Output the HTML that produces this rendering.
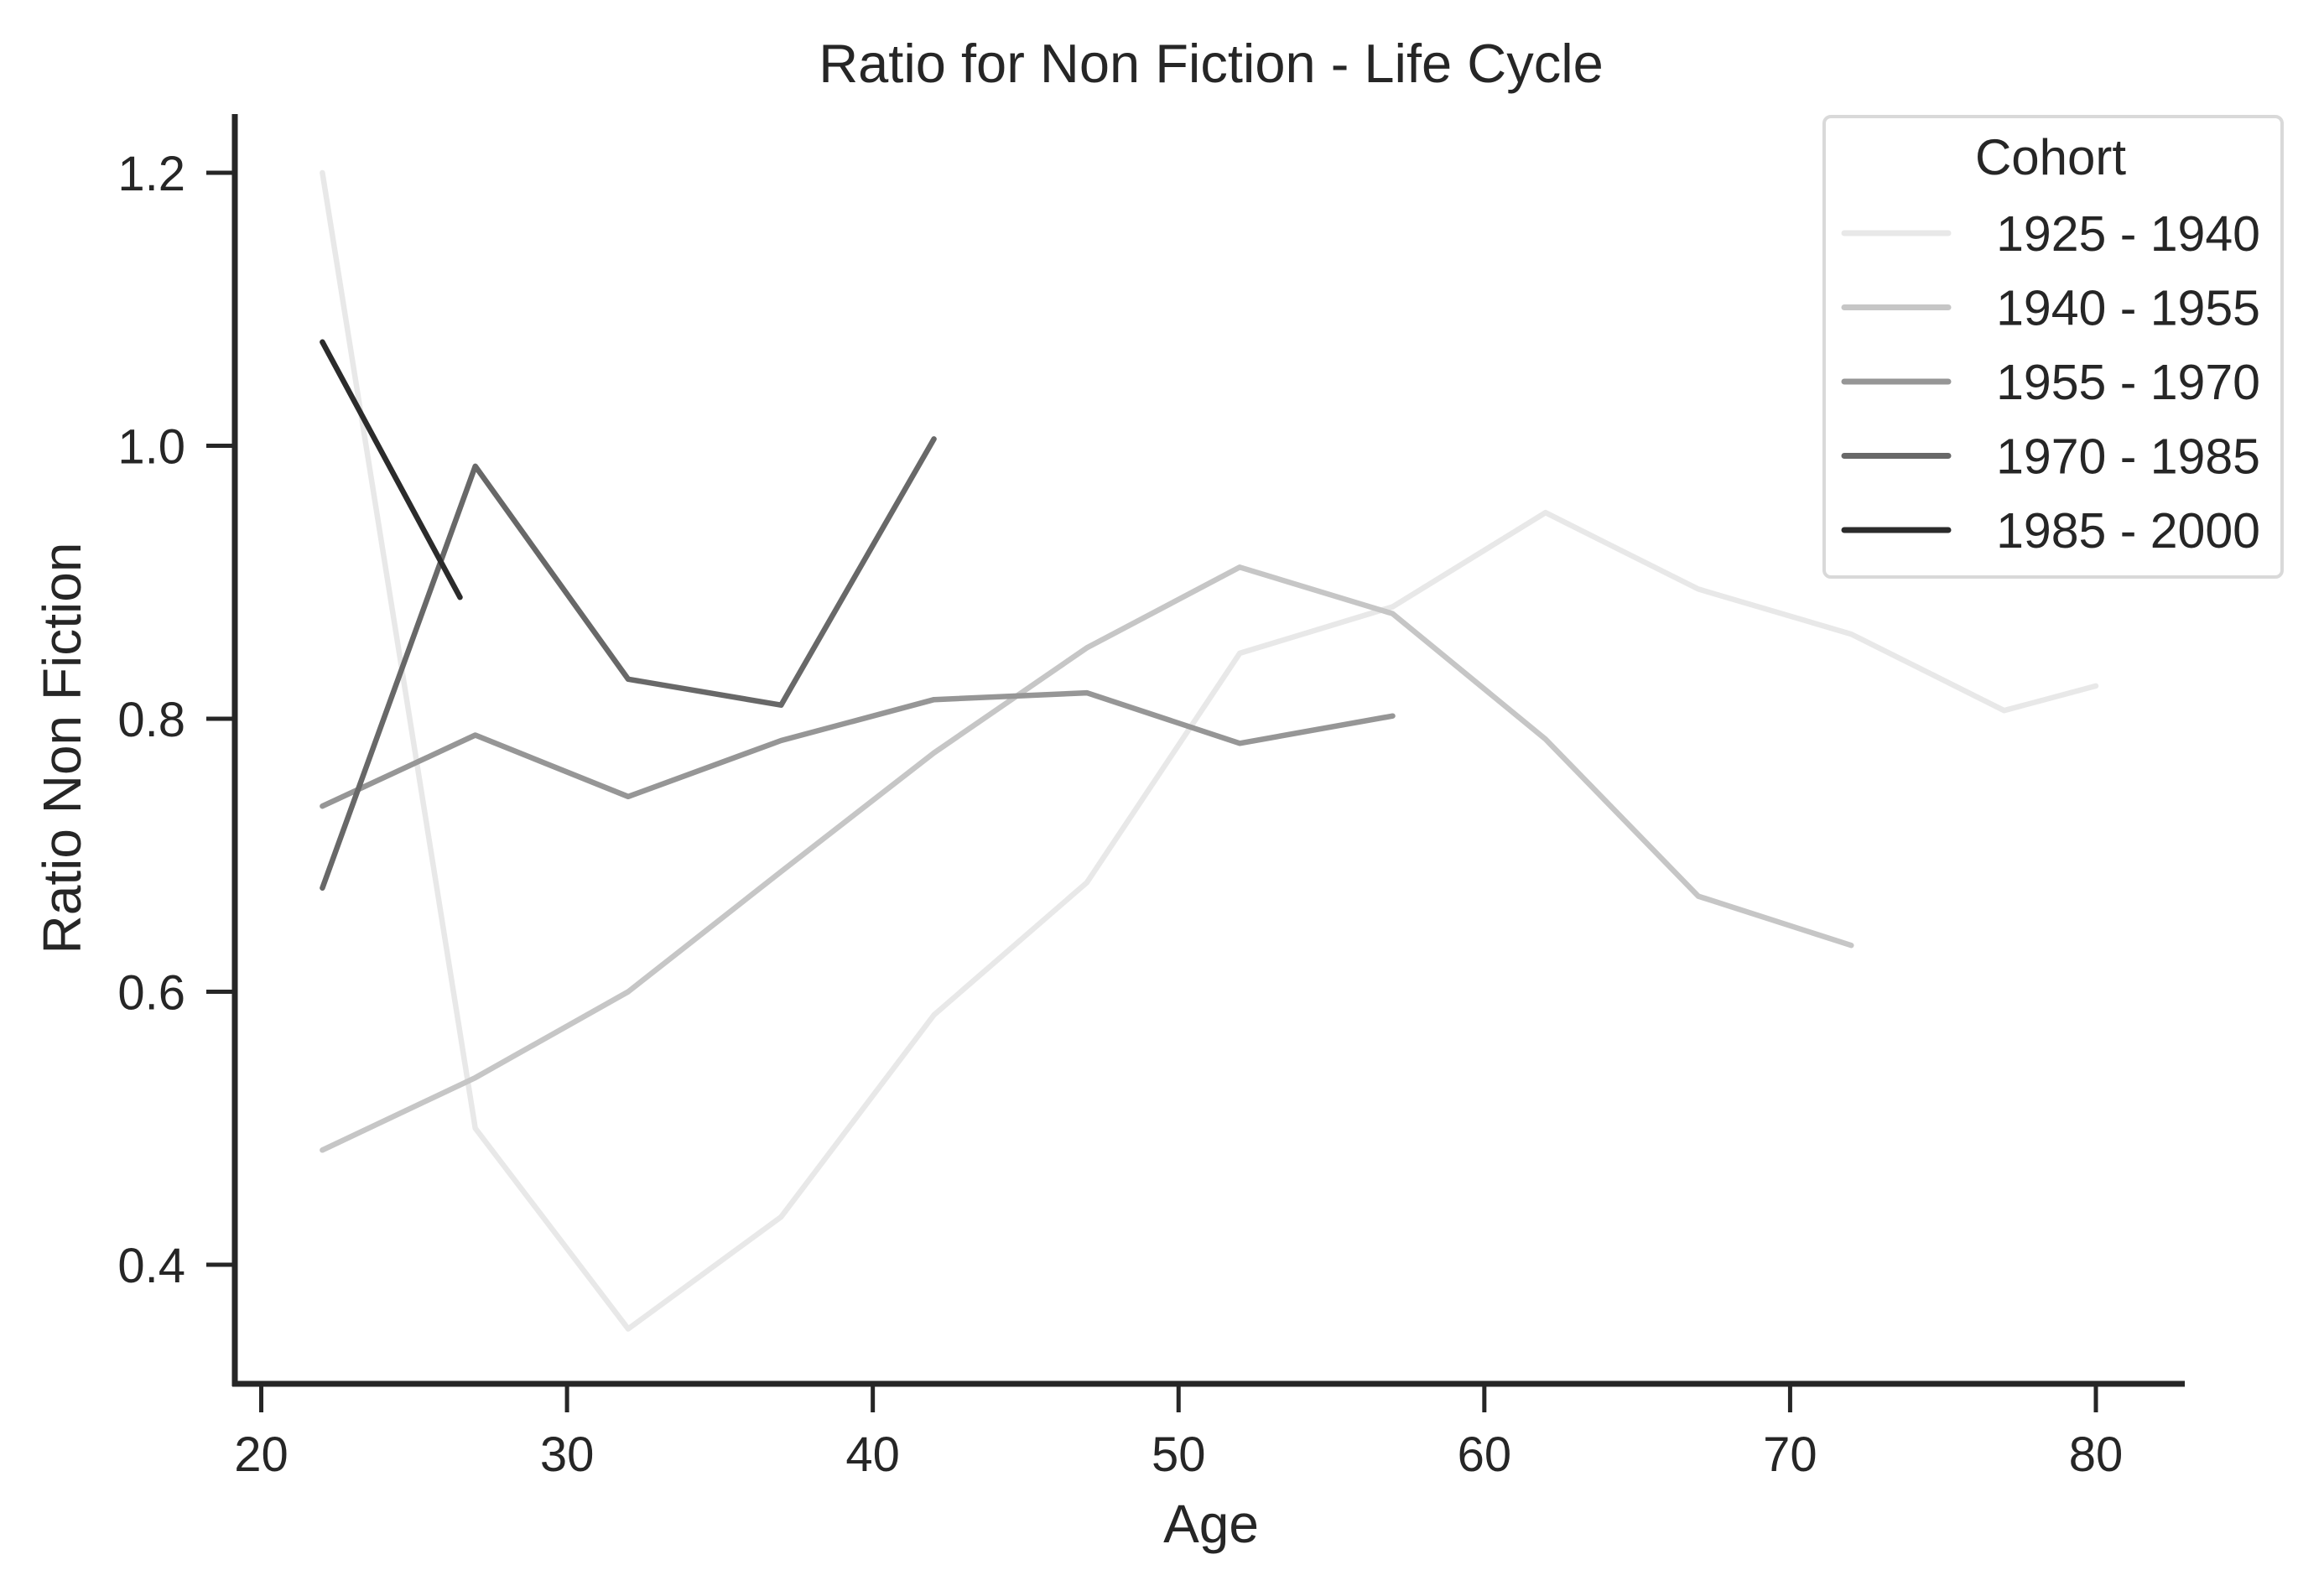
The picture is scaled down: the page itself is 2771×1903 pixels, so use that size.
<!DOCTYPE html>
<html><head><meta charset="utf-8"><style>
html,body{margin:0;padding:0;background:#fff;}
svg{display:block;font-family:"Liberation Sans",Arial,sans-serif;}
</style></head><body>
<svg id="chart" width="2771" height="1903" viewBox="0 0 2771 1903" xmlns="http://www.w3.org/2000/svg">
<rect width="2771" height="1903" fill="#fff"/>
<text x="1444" y="98" font-size="65" fill="#262626" text-anchor="middle">Ratio for Non Fiction - Life Cycle</text>
<g id="plot"></g>
<line x1="280" y1="136" x2="280" y2="1653" stroke="#262626" stroke-width="7"/>
<line x1="277" y1="1650" x2="2605" y2="1650" stroke="#262626" stroke-width="7"/>
<text x="1444" y="1839" font-size="64" fill="#262626" text-anchor="middle">Age</text>
<text transform="translate(96,892) rotate(-90)" font-size="64" fill="#262626" text-anchor="middle">Ratio Non Fiction</text>
<g>
<rect x="2175" y="139" width="546" height="549" rx="8" fill="#fff" stroke="#d9d9d9" stroke-width="4"/>
<text x="2445" y="208" font-size="60" fill="#262626" text-anchor="middle">Cohort</text>
<g id="legend-items"></g>
</g>
</svg>
<script>
const categories = ["1925 - 1940","1940 - 1955","1955 - 1970","1970 - 1985","1985 - 2000"];
const ages1 = [22,27,32,37,42,47,52,57,62,67,72,77,80];
const vals1 = [1.2,0.5,0.353,0.435,0.583,0.68,0.848,0.882,0.951,0.895,0.862,0.806,0.824];
const ages2 = [22,27,32,37,42,47,52,57,62,67,72];
const vals2 = [0.484,0.537,0.6,0.688,0.775,0.852,0.911,0.877,0.785,0.67,0.634];
const ages3 = [22,27,32,37,42,47,52,57];
const vals3 = [0.736,0.788,0.743,0.784,0.814,0.819,0.782,0.802];
const ages4 = [22,27,32,37,42];
const vals4 = [0.676,0.985,0.829,0.81,1.005];
const ages5 = [22,26.5];
const vals5 = [1.076,0.889];
const xTicks = [20,30,40,50,60,70,80];
const yTicks = [0.4,0.6,0.8,1.0,1.2];
const yTickLabels = ["0.4","0.6","0.8","1.0","1.2"];
const colors = ["#e8e8e8","#c6c6c6","#969696","#686868","#2b2b2b"];

const NS="http://www.w3.org/2000/svg";
function xs(v){return 311.5+(v-20)*(2499-311.5)/60;}
function ys(v){return 1508-(v-0.4)*(1508-206)/0.8;}
function mk(t,a){const e=document.createElementNS(NS,t);for(const k in a)e.setAttribute(k,a[k]);return e;}
const svg=document.getElementById('chart');
const plot=document.getElementById('plot');
xTicks.forEach(t=>{
  const l=mk('line',{x1:xs(t),x2:xs(t),y1:1650,y2:1684,stroke:'#262626','stroke-width':5});
  
  
  svg.appendChild(l);
  const tx=mk('text',{x:xs(t),y:1754,'font-size':58,fill:'#262626','text-anchor':'middle'});
  
  
  tx.textContent=String(t);svg.appendChild(tx);
});
yTicks.forEach((t,i)=>{
  const l=mk('line',{x1:246,x2:280,y1:ys(t),y2:ys(t),stroke:'#262626','stroke-width':5});
  
  
  svg.appendChild(l);
  const tx=mk('text',{x:221,y:ys(t)+21,'font-size':58,fill:'#262626','text-anchor':'end'});
  
  
  tx.textContent=yTickLabels[i];svg.appendChild(tx);
});
const series=[[ages1,vals1],[ages2,vals2],[ages3,vals3],[ages4,vals4],[ages5,vals5]];
series.forEach((s,i)=>{
  const pts=s[0].map((a,j)=>xs(a).toFixed(1)+','+ys(s[1][j]).toFixed(1)).join(' ');
  const p=mk('polyline',{points:pts,fill:'none',stroke:colors[i],'stroke-width':6.5,'stroke-linecap':'round','stroke-linejoin':'round'});
  
  
  plot.appendChild(p);
});
const lg=document.getElementById('legend-items');
categories.forEach((c,i)=>{
  const y=278+i*88.5;
  const l=mk('line',{x1:2199,x2:2323,y1:y,y2:y,stroke:colors[i],'stroke-width':7,'stroke-linecap':'round'});
  
  
  lg.appendChild(l);
  const t=mk('text',{x:2695,y:y+21,'font-size':59,fill:'#262626','text-anchor':'end'});
  
  
  t.textContent=c;lg.appendChild(t);
});
</script>
</body></html>
